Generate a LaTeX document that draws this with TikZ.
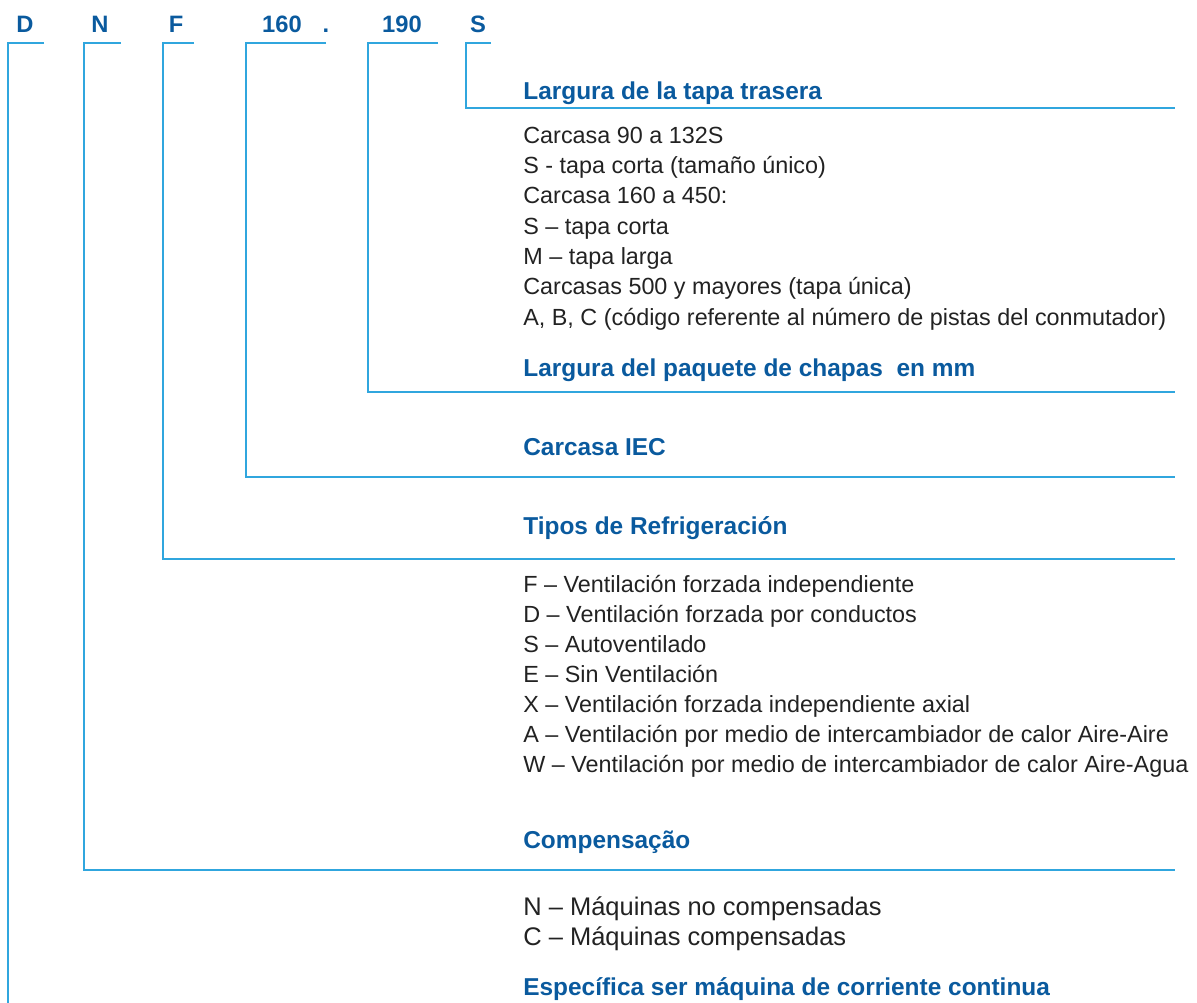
\documentclass[tikz,border=0pt]{standalone}
\usepackage{fontspec}
\setmainfont{Liberation Sans}
\usepackage{tikz}
\usetikzlibrary{positioning}

\definecolor{codeblue}{HTML}{0A5A9E}
\definecolor{rulblue}{HTML}{30A6DE}
\definecolor{bodygray}{HTML}{222222}

\tikzset{
  code/.style={inner sep=0pt,anchor=base,text=codeblue,font=\fontsize{13.5}{16}\selectfont\bfseries},
  head/.style={inner sep=0pt,anchor=base west,text=codeblue,font=\fontsize{13.9}{17}\selectfont\bfseries},
  item/.style={inner sep=0pt,anchor=base west,text=bodygray,font=\fontsize{13.3}{17}\selectfont},
  bigitem/.style={item,font=\fontsize{14.5}{18}\selectfont},
  brk/.style={rulblue,line width=0.75pt}
}

\begin{document}
\begin{tikzpicture}[x=0.02cm,y=-0.02cm]
      \useasboundingbox (0,0) rectangle (1197,1003);
      % type code
      \node[code] (cD) at (25,33) {D};
      \node[code] (cN) at (100,33) {N};
      \node[code] (cF) at (176,33) {F};
      \node[code] (c160) at (282,33) {160};
      \node[code] (cdot) at (326,33) {.};
      \node[code] (c190) at (402,33) {190};
      \node[code] (cS) at (478,33) {S};
      % headings
      \node[head] (hS) at (523,100) {Largura de la tapa trasera};
      \node[head] (h190) at (523,377) {Largura del paquete de chapas\ \ en mm};
      \node[head] (h160) at (523,456) {Carcasa IEC};
      \node[head] (hF) at (523,534) {Tipos de Refrigeración};
      \node[head] (hN) at (523,848) {Compensação};
      \node[head] (hD) at (523,995) {Específica ser máquina de corriente continua};
      % texts
      \foreach \txt [count=\i] in {Carcasa 90 a 132S, S - tapa corta (tamaño único),
          Carcasa 160 a 450:, S – tapa corta, M – tapa larga,
          Carcasas 500 y mayores (tapa única),
          {A, B, C (código referente al número de pistas del conmutador)}}
        \node[item] (s\i) at (523,113+30.3*\i) {\txt};
      \foreach \txt [count=\i] in {F – Ventilación forzada independiente,
          D – Ventilación forzada por conductos, S – Autoventilado,
          E – Sin Ventilación, X – Ventilación forzada independiente axial,
          A – Ventilación por medio de intercambiador de calor Aire-Aire,
          W – Ventilación por medio de intercambiador de calor Aire-Agua}
        \node[item] (f\i) at (523,562+30*\i) {\txt};
      \node[bigitem] (n1) at (523,915) {N – Máquinas no compensadas};
      \node[bigitem] (n2) at (523,945) {C – Máquinas compensadas};
      % brackets
      \foreach \k/\a/\b/\y in {S/491/466/108, 190/438/368/392, 160/326/246/477, F/194/163/559, N/121/84/870} {
        \coordinate (a\k) at (\a,43);
        \coordinate (b\k) at (\b,43);
        \coordinate (e\k) at (1175,\y);
        \draw[brk] (a\k) -- (b\k) |- (e\k);
      }
      \coordinate (aD) at (44,43);
      \coordinate (bD) at (8,43);
      \coordinate (eD) at (8,1003);
      \draw[brk] (aD) -- (bD) -- (eD);
\end{tikzpicture}
\end{document}
